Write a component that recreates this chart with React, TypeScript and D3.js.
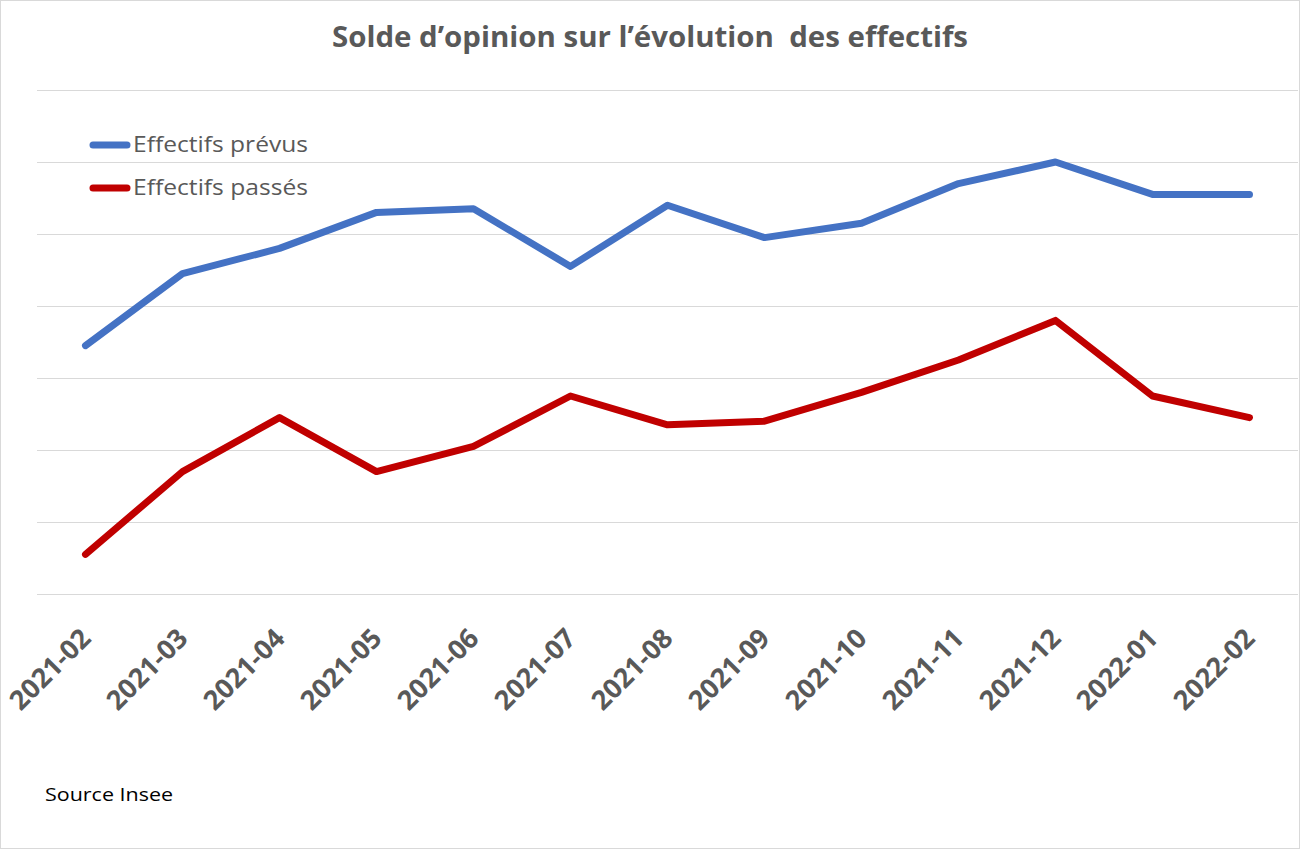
import React, { useEffect, useRef } from 'react';
import * as d3 from 'd3';

const months = [
  '2021-02', '2021-03', '2021-04', '2021-05', '2021-06', '2021-07', '2021-08',
  '2021-09', '2021-10', '2021-11', '2021-12', '2022-01', '2022-02'
];
const prevus = [-3.1, -1.1, -0.4, 0.6, 0.7, -0.9, 0.8, -0.1, 0.3, 1.4, 2.0, 1.1, 1.1];
const passes = [-8.9, -6.6, -5.1, -6.6, -5.9, -4.5, -5.3, -5.2, -4.4, -3.5, -2.4, -4.5, -5.1];
const gridValues = [-10, -8, -6, -4, -2, 0, 2, 4];

const series = [
  { name: 'Effectifs prévus', values: prevus, color: '#4472C4' },
  { name: 'Effectifs passés', values: passes, color: '#C00000' }
];

const W = 1300;
const H = 849;

const App: React.FC = () => {
  const svgRef = useRef<SVGSVGElement>(null);

  useEffect(() => {
    document.body.style.margin = '0';
    if (!svgRef.current) return;
    const svg = d3.select(svgRef.current);
    svg.selectAll('*').remove();

    const margin = { top: 90, right: 2, bottom: 255, left: 37 };
    const innerW = W - margin.left - margin.right;

    const x = d3.scaleBand<string>().domain(months).range([margin.left, margin.left + innerW]);
    const y = d3.scaleLinear().domain([-10, 4]).range([594, 90]);
    const cx = (m: string) => (x(m) ?? 0) + x.bandwidth() / 2;

    // border
    svg.append('rect')
      .attr('x', 0.5).attr('y', 0.5)
      .attr('width', W - 1).attr('height', H - 1)
      .attr('fill', '#fff').attr('stroke', '#D9D9D9');

    // gridlines
    svg.append('g')
      .selectAll('line')
      .data(gridValues)
      .enter()
      .append('line')
      .attr('x1', margin.left).attr('x2', margin.left + innerW)
      .attr('y1', d => Math.round(y(d)) + 0.5).attr('y2', d => Math.round(y(d)) + 0.5)
      .attr('stroke', '#D9D9D9').attr('stroke-width', 1);

    // title
    svg.append('text')
      .attr('x', 650).attr('y', 47)
      .attr('text-anchor', 'middle')
      .style('font-family', '"Open Sans", sans-serif')
      .style('font-weight', 'bold')
      .style('font-size', '28px')
      .attr('textLength', 636)
      .attr('lengthAdjust', 'spacingAndGlyphs')
      .style('fill', '#595959')
      .style('white-space', 'pre')
      .text('Solde d’opinion sur l’évolution  des effectifs');

    // lines
    const line = d3.line<number>()
      .x((_, i) => cx(months[i]))
      .y(d => y(d));

    series.forEach(s => {
      svg.append('path')
        .datum(s.values)
        .attr('d', line)
        .attr('fill', 'none')
        .attr('stroke', s.color)
        .attr('stroke-width', 7)
        .attr('stroke-linejoin', 'round')
        .attr('stroke-linecap', 'round');
    });

    // x labels
    svg.append('g')
      .selectAll('text')
      .data(months)
      .enter()
      .append('text')
      .attr('transform', d => `translate(${cx(d) + 7},${640}) rotate(-45)`)
      .attr('text-anchor', 'end')
      .style('font-family', '"Open Sans", sans-serif')
      .style('font-weight', 'bold')
      .style('font-size', '27px')
      .style('fill', '#595959')
      .text(d => d);

    // legend
    const legend = svg.append('g');
    series.forEach((s, i) => {
      const ly = 145 + i * 43;
      legend.append('line')
        .attr('x1', 93).attr('x2', 127)
        .attr('y1', ly).attr('y2', ly)
        .attr('stroke', s.color).attr('stroke-width', 7)
        .attr('stroke-linecap', 'round');
      legend.append('text')
        .attr('x', 133).attr('y', ly)
        .attr('dy', '0.35em')
        .style('font-family', '"Open Sans", sans-serif')
        .style('font-size', '21px')
        .attr('textLength', 175)
        .attr('lengthAdjust', 'spacingAndGlyphs')
        .style('fill', '#595959')
        .text(s.name);
    });

    // source
    svg.append('text')
      .attr('x', 45).attr('y', 801)
      .style('font-family', '"Open Sans", sans-serif')
      .style('font-size', '19px')
      .attr('textLength', 128)
      .attr('lengthAdjust', 'spacingAndGlyphs')
      .style('fill', '#000')
      .text('Source Insee');
  }, []);

  return <svg ref={svgRef} width={W} height={H} style={{ display: 'block' }} />;
};

export default App;
